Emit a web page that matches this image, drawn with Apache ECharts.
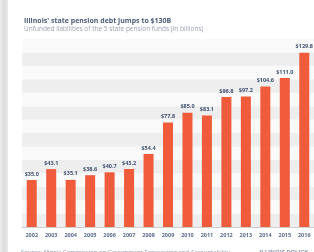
<!DOCTYPE html>
<html>
<head>
<meta charset="utf-8">
<script src="https://cdn.jsdelivr.net/npm/echarts@6/dist/echarts.min.js"></script>
<style>
  html, body { margin: 0; padding: 0; background: #fff; }
  #chart { width: 314px; height: 252px; }
</style>
</head>
<body>
<div id="chart"></div>
<script>
// years and unfunded liabilities ($ billions)
var years = ['2002', '2003', '2004', '2005', '2006', '2007', '2008', '2009',
  '2010', '2011', '2012', '2013', '2014', '2015', '2016'];
var debt = [35.0, 43.1, 35.1, 38.6, 40.7, 43.2, 54.4, 77.8,
  85.0, 83.1, 96.8, 97.2, 104.6, 111.0, 129.8];

var chart = echarts.init(document.getElementById('chart'));
var font = 'Open Sans';

var option = {
  animation: false,
  backgroundColor: '#fff',
  title: {
    text: "Illinois' state pension debt jumps to $130B",
    subtext: 'Unfunded liabilities of the 5 state pension funds (in billions)',
    left: 19,
    top: 12,
    itemGap: 2,
    textStyle: { fontFamily: font, fontSize: 7, fontWeight: 'bold', color: '#4b5d78' },
    subtextStyle: { fontFamily: font, fontSize: 6.5, color: '#9aa3b0' }
  },
  graphic: [{
    type: 'rect',
    shape: { x: 0, y: 0, width: 8, height: 252 },
    style: {
      fill: new echarts.graphic.LinearGradient(0, 0, 1, 0, [
        { offset: 0, color: '#eeeeee' },
        { offset: 0.5, color: '#dcdcdc' },
        { offset: 1, color: '#e8e8e8' }
      ])
    }
  }, {
    // source line, mostly cut off by the bottom edge
    type: 'text',
    left: 21,
    top: 249,
    style: {
      text: 'Source: Illinois Commission on Government Forecasting and Accountability',
      font: '6px "Open Sans"',
      fill: '#8a96aa'
    }
  }, {
    type: 'text',
    right: 6,
    top: 249,
    style: {
      text: 'ILLINOIS POLICY',
      font: 'bold 6px "Open Sans"',
      fill: '#8a96aa'
    }
  }],
  grid: { left: 22, right: 0, top: 39, bottom: 25 },
  xAxis: {
    type: 'category',
    data: years,
    axisTick: { show: false },
    axisLine: { lineStyle: { color: '#d0d0d0', width: 1 } },
    axisLabel: { fontFamily: font, fontSize: 5.5, fontWeight: 'bold', color: '#5a6d8c', margin: 5 }
  },
  yAxis: {
    type: 'value',
    min: 0,
    max: 140,
    interval: 10,
    axisLabel: { show: false },
    axisLine: { show: false },
    axisTick: { show: false },
    splitLine: { show: false },
    splitArea: { show: true, areaStyle: { color: ['#eeeeee', '#fafafa'] } }
  },
  series: [{
    type: 'bar',
    data: debt,
    barWidth: 10,
    itemStyle: { color: '#ef5b3b' },
    label: {
      show: true,
      position: 'top',
      distance: 3,
      fontFamily: font,
      fontSize: 5.5,
      fontWeight: 'bold',
      color: '#3d5072',
      formatter: function (p) { return '$' + p.value.toFixed(1); }
    }
  }]
};

chart.setOption(option);
</script>
</body>
</html>
